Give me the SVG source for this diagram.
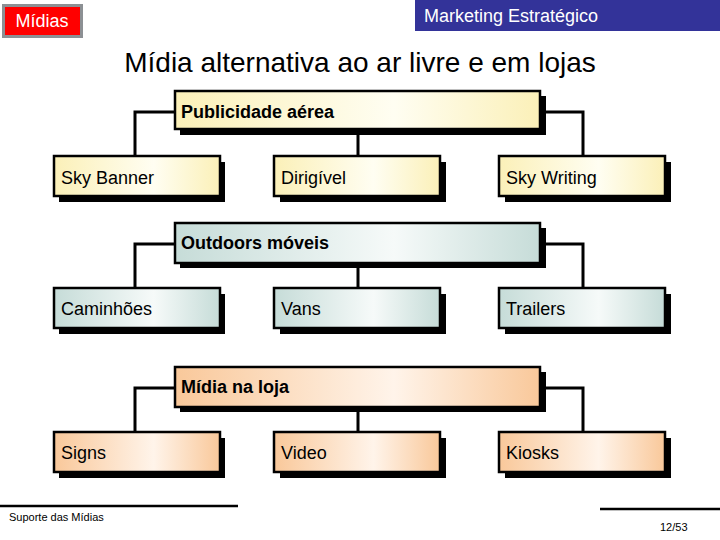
<svg xmlns="http://www.w3.org/2000/svg" width="720" height="540" viewBox="0 0 720 540">
<defs>
<linearGradient id="gY" x1="0" y1="0" x2="1" y2="0">
<stop offset="0" stop-color="#fbf0b8"/><stop offset="0.6" stop-color="#fffef2"/><stop offset="1" stop-color="#fbf0b8"/>
</linearGradient>
<linearGradient id="gG" x1="0" y1="0" x2="1" y2="0">
<stop offset="0" stop-color="#c6dcd8"/><stop offset="0.6" stop-color="#f6faf9"/><stop offset="1" stop-color="#c6dcd8"/>
</linearGradient>
<linearGradient id="gP" x1="0" y1="0" x2="1" y2="0">
<stop offset="0" stop-color="#f9c89a"/><stop offset="0.6" stop-color="#fff4ea"/><stop offset="1" stop-color="#f9c89a"/>
</linearGradient>
</defs>
<style>
.sh{fill:#000}
.bx{stroke:#000;stroke-width:2.5}
.y{fill:url(#gY)} .g{fill:url(#gG)} .p{fill:url(#gP)}
.t{font-family:"Liberation Sans",Arial,sans-serif;font-size:18px;fill:#000}
.b{font-weight:bold}
.w{fill:#fff}
.cn{fill:none;stroke:#000;stroke-width:3}
</style>
<rect width="720" height="540" fill="#fff"/>
<g id="header-midias">
<rect x="2" y="4" width="81" height="34" fill="#8c9094"/>
<rect x="5" y="7" width="75" height="28" fill="#ff0000"/>
<text x="42" y="27" text-anchor="middle" class="t w">Mídias</text>
</g>
<g id="header-marketing">
<rect x="415" y="0" width="305" height="31" fill="#333399"/>
<text x="424" y="22" class="t w">Marketing Estratégico</text>
</g>
<text x="360" y="72" text-anchor="middle" font-family="Liberation Sans, Arial, sans-serif" font-size="28" fill="#000">Mídia alternativa ao ar livre e em lojas</text>

<g id="connectors">
<path class="cn" d="M175 112 H135 V156 M540 112 H583 V156 M358 128 V156"/>
<path class="cn" d="M175 244 H135 V288 M540 244 H583 V288 M358 263 V288"/>
<path class="cn" d="M175 388 H135 V432 M540 388 H583 V432 M358 407 V432"/>
</g>

<g id="publicidade-aerea">
<rect class="sh" x="180" y="96" width="366" height="39"/>
<rect class="bx y" x="175" y="91" width="365" height="38"/>
<text class="t b" x="181" y="118">Publicidade aérea</text>
</g>
<g id="sky-banner">
<rect class="sh" x="59" y="162" width="166" height="40"/>
<rect class="bx y" x="54" y="156" width="166" height="40"/>
<text class="t" x="61" y="184">Sky Banner</text>
</g>
<g id="dirigivel">
<rect class="sh" x="280" y="162" width="166" height="40"/>
<rect class="bx y" x="274" y="156" width="166" height="40"/>
<text class="t" x="281" y="184">Dirigível</text>
</g>
<g id="sky-writing">
<rect class="sh" x="505" y="162" width="166" height="40"/>
<rect class="bx y" x="499" y="156" width="166" height="40"/>
<text class="t" x="506" y="184">Sky Writing</text>
</g>

<g id="outdoors-moveis">
<rect class="sh" x="180" y="228" width="366" height="40"/>
<rect class="bx g" x="175" y="223" width="365" height="40"/>
<text class="t b" x="181" y="249">Outdoors móveis</text>
</g>
<g id="caminhoes">
<rect class="sh" x="59" y="294" width="166" height="40"/>
<rect class="bx g" x="54" y="288" width="166" height="40"/>
<text class="t" x="61" y="315">Caminhões</text>
</g>
<g id="vans">
<rect class="sh" x="280" y="294" width="166" height="40"/>
<rect class="bx g" x="274" y="288" width="166" height="40"/>
<text class="t" x="281" y="315">Vans</text>
</g>
<g id="trailers">
<rect class="sh" x="505" y="294" width="166" height="40"/>
<rect class="bx g" x="499" y="288" width="166" height="40"/>
<text class="t" x="506" y="315">Trailers</text>
</g>

<g id="midia-na-loja">
<rect class="sh" x="180" y="372" width="366" height="40"/>
<rect class="bx p" x="175" y="367" width="365" height="40"/>
<text class="t b" x="181" y="393">Mídia na loja</text>
</g>
<g id="signs">
<rect class="sh" x="59" y="438" width="166" height="40"/>
<rect class="bx p" x="54" y="432" width="166" height="40"/>
<text class="t" x="61" y="459">Signs</text>
</g>
<g id="video">
<rect class="sh" x="280" y="438" width="166" height="40"/>
<rect class="bx p" x="274" y="432" width="166" height="40"/>
<text class="t" x="281" y="459">Video</text>
</g>
<g id="kiosks">
<rect class="sh" x="505" y="438" width="166" height="40"/>
<rect class="bx p" x="499" y="432" width="166" height="40"/>
<text class="t" x="506" y="459">Kiosks</text>
</g>

<g id="footer">
<line x1="0" y1="506" x2="238" y2="506" stroke="#000" stroke-width="2.5"/>
<line x1="600" y1="509" x2="720" y2="509" stroke="#000" stroke-width="2.5"/>
<text x="9" y="521" font-family="Liberation Sans, Arial, sans-serif" font-size="11" fill="#000">Suporte das Mídias</text>
<text x="660" y="531" font-family="Liberation Sans, Arial, sans-serif" font-size="11" fill="#000">12/53</text>
</g>
</svg>
